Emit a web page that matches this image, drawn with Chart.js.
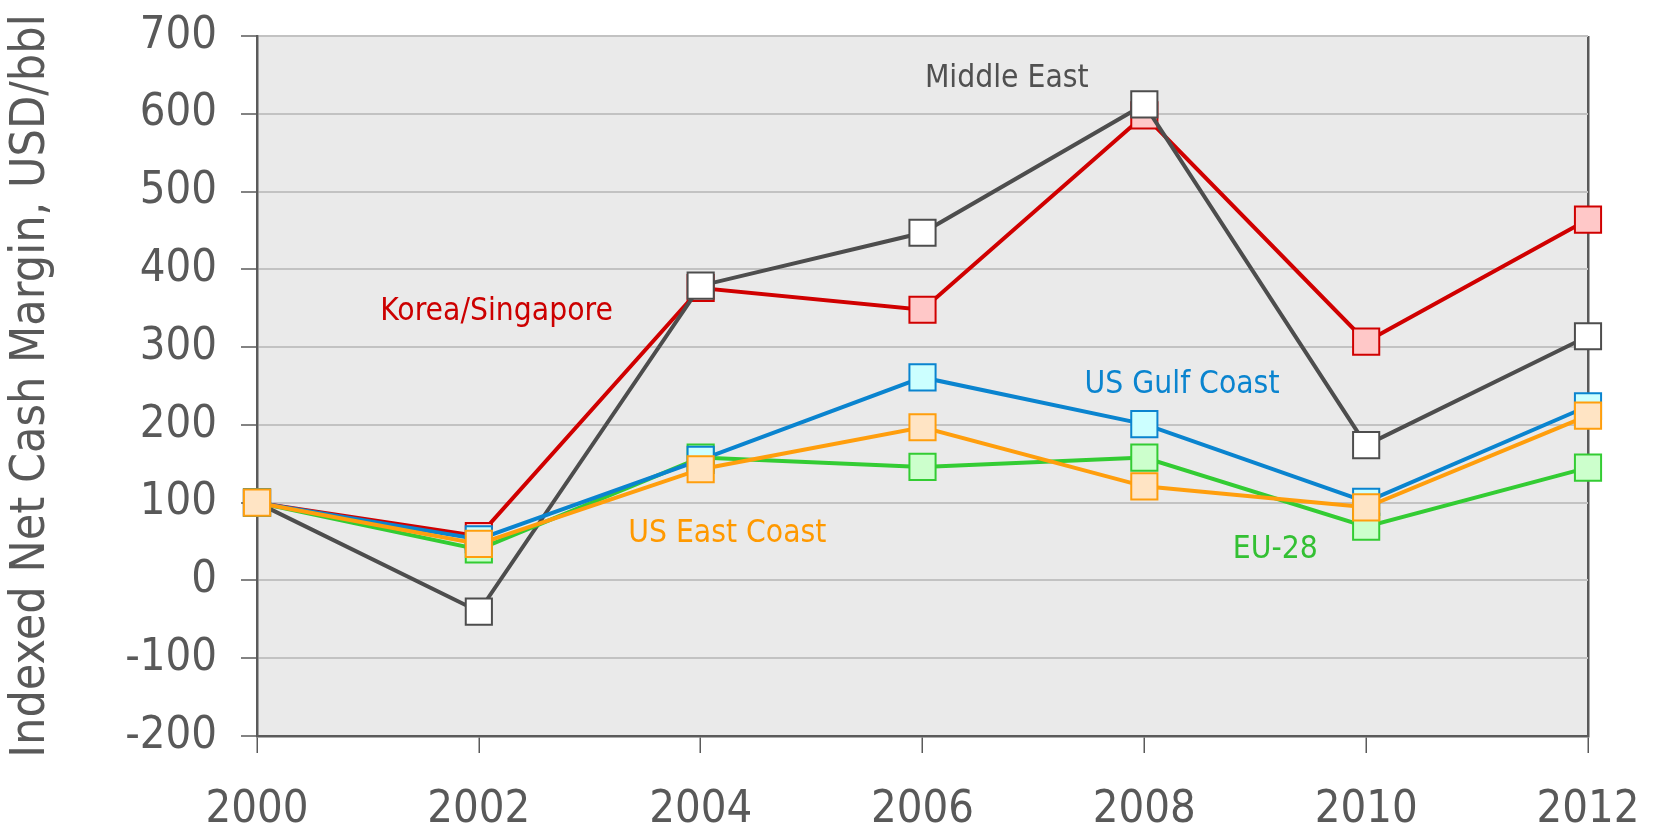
<!DOCTYPE html>
<html>
<head>
<meta charset="utf-8">
<script src="https://cdn.jsdelivr.net/npm/chart.js@4/dist/chart.umd.min.js"></script>
<style>
  html, body { margin: 0; padding: 0; background: #ffffff; }
  #wrap { width: 1654px; height: 832px; position: relative; }
</style>
</head>
<body>
<div id="wrap"><canvas id="c" width="1654" height="832"></canvas></div>
<script>
// ---- Data ----
const years = ['2000', '2002', '2004', '2006', '2008', '2010', '2012'];
const koreaSingapore = [100, 57, 376, 348, 598, 307, 464];
const middleEast     = [100, -40, 379, 447, 612, 174, 314];
const usGulfCoast    = [100, 53, 155, 261, 201, 101, 224];
const usEastCoast    = [100, 47, 143, 197, 121, 94, 212];
const eu28           = [100, 40, 158, 146, 158, 69, 145];
const yTicks = [-200, -100, 0, 100, 200, 300, 400, 500, 600, 700];
const yTitle = 'Indexed Net Cash Margin, USD/bbl';

// ---- Series labels drawn inside the plot (text, anchored in data units) ----
const labelNames = ['Middle East', 'Korea/Singapore', 'US Gulf Coast', 'US East Coast', 'EU-28'];
const labelAtIndex = [3.38, 1.08, 4.17, 2.12, 4.59];
const labelAtValue = [645, 346, 252, 60, 40];
const labelColors = ['#505050', '#cc0000', '#0a84cf', '#ff9900', '#33c033'];

const FONT = '"DejaVu Sans Condensed", "DejaVu Sans", sans-serif';
const AXIS = '#5a5a5a';

const plotBg = {
  id: 'plotBg',
  beforeDraw(chart) {
    const a = chart.chartArea, ctx = chart.ctx;
    ctx.save();
    ctx.fillStyle = '#eaeaea';
    ctx.fillRect(a.left, a.top, a.right - a.left, a.bottom - a.top);
    ctx.restore();
  }
};

const seriesLabels = {
  id: 'seriesLabels',
  afterDatasetsDraw(chart) {
    const ctx = chart.ctx, xs = chart.scales.x, ys = chart.scales.y;
    ctx.save();
    ctx.font = '31.5px ' + FONT;
    ctx.textAlign = 'center';
    ctx.textBaseline = 'middle';
    labelNames.forEach((t, i) => {
      ctx.fillStyle = labelColors[i];
      ctx.fillText(t, xs.getPixelForValue(labelAtIndex[i]), ys.getPixelForValue(labelAtValue[i]));
    });
    ctx.restore();
  }
};

function ds(label, data, line, fill) {
  return {
    label, data,
    borderColor: line, backgroundColor: fill,
    borderWidth: 4,
    pointStyle: 'rect', pointRadius: 18.5, pointHoverRadius: 18.5,
    pointBorderWidth: 2, pointBorderColor: line, pointBackgroundColor: fill,
    tension: 0, fill: false
  };
}

new Chart(document.getElementById('c'), {
  type: 'line',
  data: {
    labels: years,
    datasets: [
      ds('US East Coast', usEastCoast, '#ff9e0d', '#ffe4c4'),
      ds('US Gulf Coast', usGulfCoast, '#0a84cf', '#ccffff'),
      ds('EU-28', eu28, '#33cc33', '#ccffcc'),
      ds('Middle East', middleEast, '#4d4d4d', '#ffffff'),
      ds('Korea/Singapore', koreaSingapore, '#d00000', '#ffc8c8')
    ]
  },
  options: {
    responsive: false,
    animation: false,
    devicePixelRatio: 1,
    layout: { padding: { top: 36, right: 66, left: 0, bottom: 0 } },
    plugins: { legend: { display: false }, tooltip: { enabled: false } },
    scales: {
      x: {
        offset: false,
        afterFit: (s) => { s.height = 96; s.paddingLeft = 0; s.paddingRight = 0; },
        border: { display: true, color: AXIS, width: 2.5 },
        grid: {
          drawOnChartArea: true,
          color: (c) => c.index === years.length - 1 ? AXIS : 'rgba(0,0,0,0)',
          lineWidth: 2.5,
          tickColor: AXIS, tickLength: 17, tickWidth: 1.5
        },
        ticks: { color: '#595959', font: { family: FONT, size: 45 }, padding: 30, maxRotation: 0 }
      },
      y: {
        min: -200, max: 700,
        afterBuildTicks: (s) => { s.ticks = yTicks.map(v => ({ value: v })); },
        afterFit: (s) => { s.width = 257; s.paddingTop = 0; s.paddingBottom = 0; },
        border: { display: true, color: AXIS, width: 2.5 },
        grid: { color: '#c2c2c2', lineWidth: 2, tickColor: AXIS, tickLength: 16, tickWidth: 1.5 },
        ticks: { color: '#595959', font: { family: FONT, size: 45 }, padding: 24 },
        title: { display: true, text: yTitle, color: '#595959', font: { family: FONT, size: 48 }, padding: { top: 3, bottom: 0 } }
      }
    }
  },
  plugins: [plotBg, seriesLabels]
});
</script>
</body>
</html>
